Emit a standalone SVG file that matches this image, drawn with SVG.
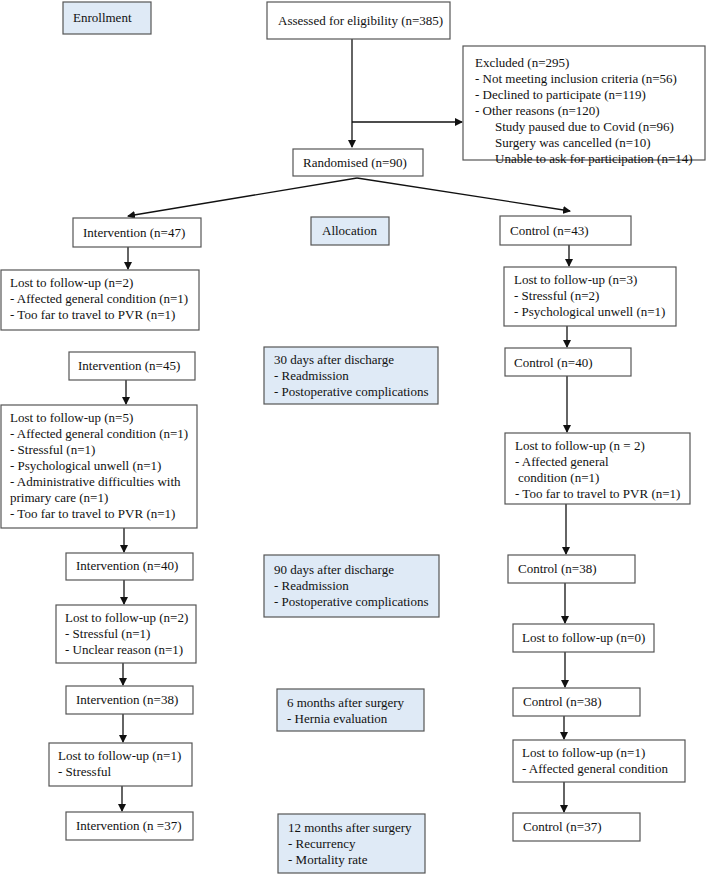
<svg xmlns="http://www.w3.org/2000/svg" width="709" height="876" viewBox="0 0 709 876">
<style>
.b{fill:#fff;stroke:#555;stroke-width:1.2}
.s{fill:#dfeaf6;stroke:#555;stroke-width:1.2}
text{font-family:"Liberation Serif","Times New Roman",serif;font-size:13px;fill:#111}
.c line{stroke:#111;stroke-width:1.3}
</style>
<defs><marker id="a" markerWidth="8" markerHeight="8" refX="7" refY="4" orient="auto" markerUnits="userSpaceOnUse"><path d="M0,0 L8,4 L0,8 z" fill="#111"/></marker></defs>
<rect width="709" height="876" fill="#fff"/>
<g class="c">
<line x1="352" y1="39" x2="352" y2="147" marker-end="url(#a)"/>
<line x1="352" y1="122" x2="462" y2="122" marker-end="url(#a)"/>
<line x1="357" y1="178" x2="128" y2="216" marker-end="url(#a)"/>
<line x1="357" y1="178" x2="570" y2="211" marker-end="url(#a)"/>
<line x1="128" y1="247" x2="128" y2="269" marker-end="url(#a)"/>
<line x1="569" y1="245" x2="569" y2="266" marker-end="url(#a)"/>
<line x1="567" y1="326" x2="567" y2="347" marker-end="url(#a)"/>
<line x1="126" y1="380" x2="126" y2="404" marker-end="url(#a)"/>
<line x1="567" y1="376" x2="567" y2="432" marker-end="url(#a)"/>
<line x1="124" y1="528" x2="124" y2="552" marker-end="url(#a)"/>
<line x1="566" y1="504" x2="566" y2="554" marker-end="url(#a)"/>
<line x1="124" y1="580" x2="124" y2="604" marker-end="url(#a)"/>
<line x1="123" y1="663" x2="123" y2="685" marker-end="url(#a)"/>
<line x1="123" y1="714" x2="123" y2="742" marker-end="url(#a)"/>
<line x1="122" y1="786" x2="122" y2="811" marker-end="url(#a)"/>
<line x1="565" y1="583" x2="565" y2="623" marker-end="url(#a)"/>
<line x1="565" y1="652" x2="565" y2="687" marker-end="url(#a)"/>
<line x1="564" y1="716" x2="564" y2="739" marker-end="url(#a)"/>
<line x1="564" y1="782" x2="564" y2="812" marker-end="url(#a)"/>
</g>
<g id="enrollment"><rect class="s" x="63" y="2" width="88" height="32"/><text x="73" y="22">Enrollment</text></g>
<g id="assessed"><rect class="b" x="267" y="2" width="183" height="37"/><text x="278" y="25">Assessed for eligibility (n=385)</text></g>
<g id="excluded"><rect class="b" x="463" y="46" width="242" height="114"/>
<text x="475" y="52"><tspan x="475" dy="15">Excluded (n=295)</tspan><tspan x="475" dy="16">- Not meeting inclusion criteria (n=56)</tspan><tspan x="475" dy="16">- Declined to participate (n=119)</tspan><tspan x="475" dy="16">- Other reasons (n=120)</tspan><tspan x="495" dy="16">Study paused due to Covid (n=96)</tspan><tspan x="495" dy="16">Surgery was cancelled (n=10)</tspan><tspan x="495" dy="16">Unable to ask for participation (n=14)</tspan></text></g>
<g id="randomised"><rect class="b" x="293" y="149" width="130" height="27"/><text x="303" y="167">Randomised (n=90)</text></g>
<g id="int47"><rect class="b" x="73" y="218" width="128" height="29"/><text x="83" y="237">Intervention (n=47)</text></g>
<g id="allocation"><rect class="s" x="311" y="217" width="78" height="28"/><text x="322" y="235">Allocation</text></g>
<g id="ctl43"><rect class="b" x="500" y="216" width="131" height="29"/><text x="510" y="235">Control (n=43)</text></g>
<g id="lost-i1"><rect class="b" x="1" y="270" width="198" height="60"/><text x="10" y="272"><tspan x="10" dy="15">Lost to follow-up (n=2)</tspan><tspan x="10" dy="16">- Affected general condition (n=1)</tspan><tspan x="10" dy="16">- Too far to travel to PVR (n=1)</tspan></text></g>
<g id="lost-c1"><rect class="b" x="504" y="267" width="172" height="59"/><text x="514" y="269"><tspan x="514" dy="15">Lost to follow-up (n=3)</tspan><tspan x="514" dy="16">- Stressful (n=2)</tspan><tspan x="514" dy="16">- Psychological unwell (n=1)</tspan></text></g>
<g id="int45"><rect class="b" x="69" y="352" width="126" height="28"/><text x="78" y="370">Intervention (n=45)</text></g>
<g id="d30"><rect class="s" x="264" y="347" width="174" height="57"/><text x="274" y="350"><tspan x="274" dy="14">30 days after discharge</tspan><tspan x="274" dy="16">- Readmission</tspan><tspan x="274" dy="16">- Postoperative complications</tspan></text></g>
<g id="ctl40"><rect class="b" x="505" y="348" width="126" height="28"/><text x="514" y="367">Control (n=40)</text></g>
<g id="lost-i2"><rect class="b" x="1" y="405" width="196" height="123"/><text x="10" y="407"><tspan x="10" dy="15">Lost to follow-up (n=5)</tspan><tspan x="10" dy="16">- Affected general condition (n=1)</tspan><tspan x="10" dy="16">- Stressful (n=1)</tspan><tspan x="10" dy="16">- Psychological unwell (n=1)</tspan><tspan x="10" dy="16">- Administrative difficulties with</tspan><tspan x="10" dy="16">primary care (n=1)</tspan><tspan x="10" dy="16">- Too far to travel to PVR (n=1)</tspan></text></g>
<g id="lost-c2"><rect class="b" x="505" y="433" width="185" height="71"/><text x="515" y="435"><tspan x="515" dy="15">Lost to follow-up (n = 2)</tspan><tspan x="515" dy="16">- Affected general</tspan><tspan x="518" dy="16">condition (n=1)</tspan><tspan x="515" dy="16">- Too far to travel to PVR (n=1)</tspan></text></g>
<g id="int40"><rect class="b" x="66" y="553" width="127" height="27"/><text x="76" y="570">Intervention (n=40)</text></g>
<g id="d90"><rect class="s" x="264" y="555" width="175" height="62"/><text x="274" y="560"><tspan x="274" dy="14">90 days after discharge</tspan><tspan x="274" dy="16">- Readmission</tspan><tspan x="274" dy="16">- Postoperative complications</tspan></text></g>
<g id="ctl38a"><rect class="b" x="508" y="555" width="127" height="28"/><text x="518" y="573">Control (n=38)</text></g>
<g id="lost-i3"><rect class="b" x="56" y="605" width="140" height="58"/><text x="65" y="607"><tspan x="65" dy="15">Lost to follow-up (n=2)</tspan><tspan x="65" dy="16">- Stressful (n=1)</tspan><tspan x="65" dy="16">- Unclear reason (n=1)</tspan></text></g>
<g id="lost-c3"><rect class="b" x="513" y="624" width="141" height="28"/><text x="522" y="642">Lost to follow-up (n=0)</text></g>
<g id="int38"><rect class="b" x="66" y="686" width="127" height="28"/><text x="76" y="704">Intervention (n=38)</text></g>
<g id="m6"><rect class="s" x="277" y="689" width="147" height="42"/><text x="287" y="692"><tspan x="287" dy="15">6 months after surgery</tspan><tspan x="287" dy="16">- Hernia evaluation</tspan></text></g>
<g id="ctl38b"><rect class="b" x="513" y="688" width="127" height="28"/><text x="523" y="706">Control (n=38)</text></g>
<g id="lost-i4"><rect class="b" x="49" y="743" width="143" height="43"/><text x="58" y="745"><tspan x="58" dy="15">Lost to follow-up (n=1)</tspan><tspan x="58" dy="16">- Stressful</tspan></text></g>
<g id="lost-c4"><rect class="b" x="513" y="740" width="172" height="42"/><text x="522" y="742"><tspan x="522" dy="15">Lost to follow-up (n=1)</tspan><tspan x="522" dy="16">- Affected general condition</tspan></text></g>
<g id="int37"><rect class="b" x="66" y="812" width="127" height="28"/><text x="76" y="830">Intervention (n =37)</text></g>
<g id="m12"><rect class="s" x="278" y="814" width="147" height="59"/><text x="288" y="817"><tspan x="288" dy="15">12 months after surgery</tspan><tspan x="288" dy="16">- Recurrency</tspan><tspan x="288" dy="16">- Mortality rate</tspan></text></g>
<g id="ctl37"><rect class="b" x="513" y="813" width="127" height="28"/><text x="523" y="831">Control (n=37)</text></g>
</svg>
